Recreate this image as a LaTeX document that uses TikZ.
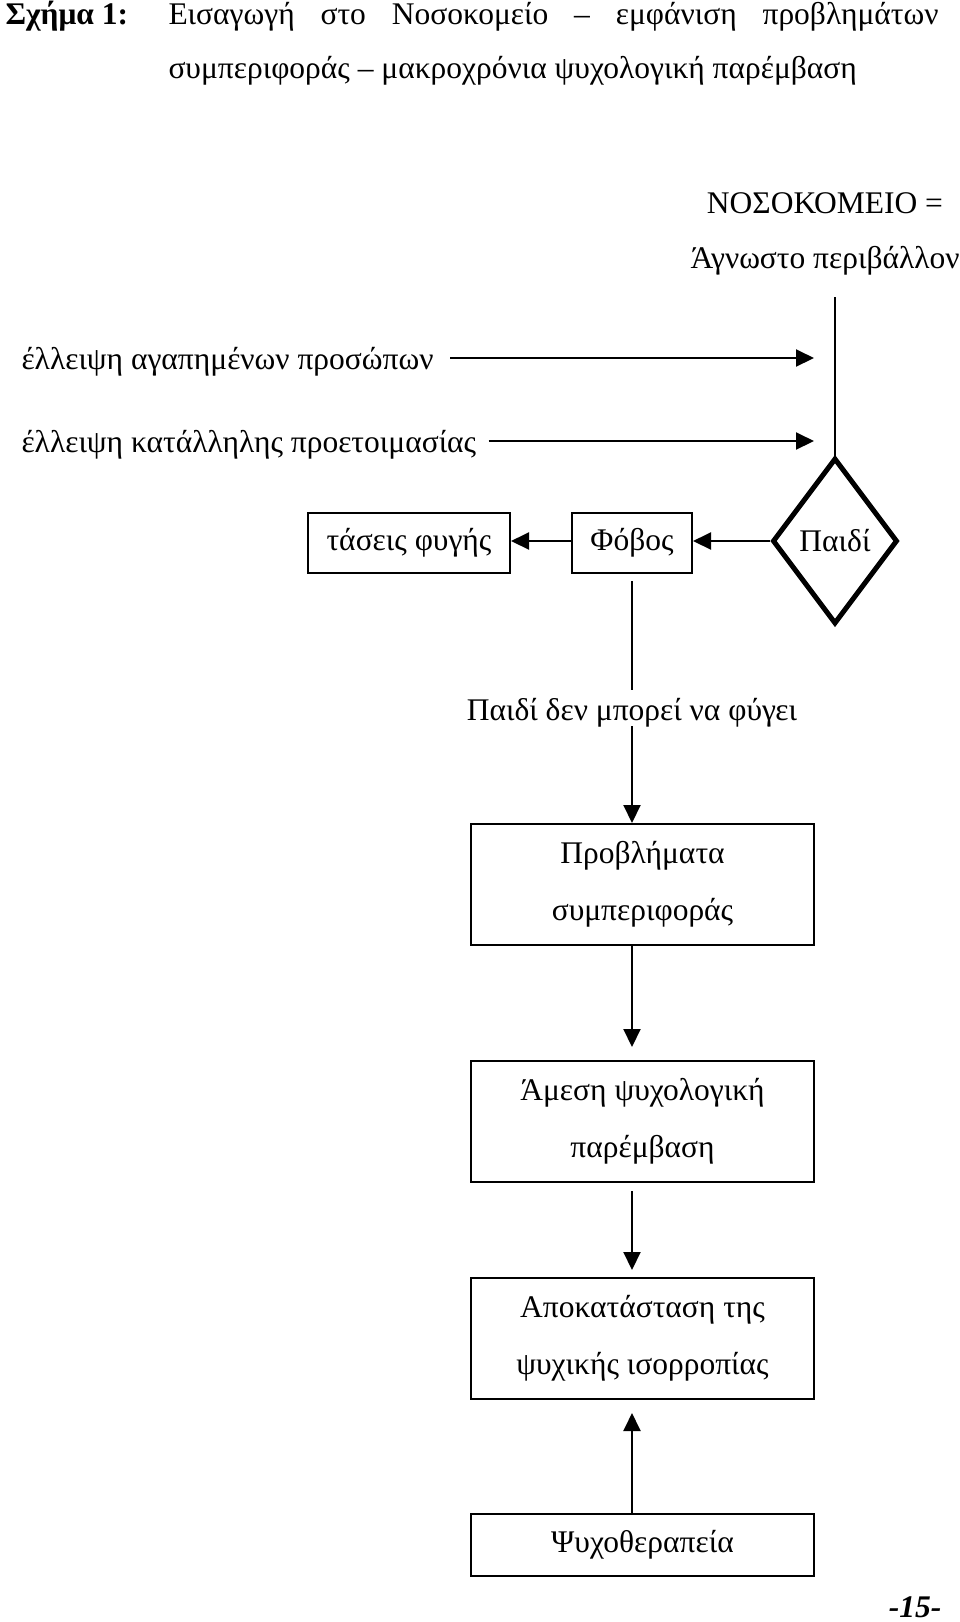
\documentclass[tikz,border=0pt]{standalone}
\usepackage{fontspec}
\setmainfont{Liberation Serif}
\usetikzlibrary{arrows.meta,shapes.geometric,calc}
\begin{document}
\begin{tikzpicture}[x=0.4pt,y=-0.4pt,
  txt/.style={inner sep=0pt, text height=8.8pt, text depth=3.15pt, font=\fontsize{12.6}{14}\selectfont},
  box/.style={draw, line width=0.8pt, inner sep=0pt, align=center,
    font=\fontsize{12.6}{22.8}\selectfont},
  ln/.style={line width=0.8pt},
  arr/.style={line width=0.8pt, -{Triangle[length=7.2pt,width=6.8pt]}}
]
\fill[white] (0,0) rectangle (960,1622);
\useasboundingbox (0,0) rectangle (960,1622);

% title
\node[txt, anchor=west] (fig) at (5,17) {\bfseries Σχήμα 1:};
\node[txt, anchor=west] (t1) at (168,17) {\makebox[308pt][s]{Εισαγωγή στο Νοσοκομείο – εμφάνιση προβλημάτων}};
\node[txt, anchor=west] (t2) at (168,71) {συμπεριφοράς – μακροχρόνια ψυχολογική παρέμβαση};

% hospital
\node[txt] (hosp) at (825,206) {ΝΟΣΟΚΟΜΕΙΟ =};
\node[txt, anchor=west] (env) at (690,261) {Άγνωστο περιβάλλον};

% lacks
\node[txt, anchor=west] (l1) at (21,362) {έλλειψη αγαπημένων προσώπων};
\node[txt, anchor=west] (l2) at (21,445) {έλλειψη κατάλληλης προετοιμασίας};
\coordinate (a1) at (814,358);
\coordinate (a2) at (814,441);
\draw[arr] ($(l1.east |- a1)+(16,0)$) -- (a1);
\draw[arr] ($(l2.east |- a2)+(12,0)$) -- (a2);

% child diamond
\node[diamond, draw, line width=2pt, inner sep=0pt, minimum width=50pt, minimum height=66.4pt,
  font=\fontsize{12.6}{14}\selectfont] (child) at (835,541) {Παιδί};
\coordinate (vtop) at (835,297);
\draw[ln] (vtop) -- (child.north);

\node[box, minimum width=48pt, minimum height=24pt] (fobos) at (632,543) {Φόβος};
\node[box, minimum width=80.8pt, minimum height=24pt] (tas) at (409,543) {τάσεις φυγής};
\draw[arr] (child.west) -- (fobos.east |- child.west);
\draw[arr] (fobos.west |- child.west) -- (tas.east |- child.west);

% cannot leave
\node[txt] (cant) at (632,713) {Παιδί δεν μπορεί να φύγει};
\node[box, minimum width=137.2pt, minimum height=48.4pt] (prob) at (642.5,884.5) {Προβλήματα\\συμπεριφοράς};
\draw[ln] ($(fobos.south)+(0,7)$) -- ($(cant.north)+(0,-8)$);
\draw[arr] ($(cant.south)+(0,-2)$) -- (prob.north -| cant.south);

\node[box, minimum width=137.2pt, minimum height=48.4pt] (imm) at (642.5,1121.5) {Άμεση ψυχολογική\\παρέμβαση};
\coordinate (p1) at (632,1047);
\draw[arr] (prob.south -| cant.south) -- (p1);

\node[box, minimum width=137.2pt, minimum height=48.4pt] (rest) at (642.5,1338.5) {Αποκατάσταση της\\ψυχικής ισορροπίας};
\coordinate (p2) at (632,1270);
\draw[arr] ($(imm.south -| cant.south)+(0,8)$) -- (p2);

\node[box, minimum width=137.2pt, minimum height=24.8pt] (psy) at (642.5,1545) {Ψυχοθεραπεία};
\coordinate (p3) at (632,1413);
\draw[arr] (psy.north -| cant.south) -- (p3);

% page number
\node[txt, font=\fontsize{12.6}{14}\selectfont\bfseries\itshape] (page) at (915,1610) {-15-};
\end{tikzpicture}
\end{document}
